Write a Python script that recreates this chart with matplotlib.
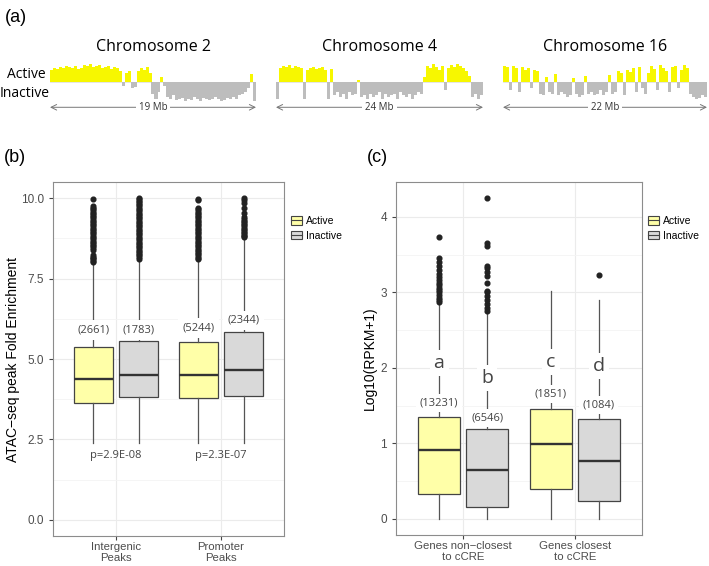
import numpy as np
import matplotlib
matplotlib.use('Agg')
import matplotlib.pyplot as plt
from matplotlib.patches import Patch
from matplotlib.lines import Line2D

# panel (a): binned signal along each chromosome, >0 active, <0 inactive
chr_names = ['Chromosome 2', 'Chromosome 4', 'Chromosome 16']
chr_sizes = [19, 24, 22]
chr2_signal = [0.7, 0.8, 0.75, 0.85, 0.8, 0.9, 0.85, 0.8, 0.9, 0.75, 0.8, 0.95,
               0.9, 1.0, 0.85, 0.9, 0.95, 0.8, 0.85, 0.9, 0.75, 0.85, 0.8, 0.6,
               -0.2, 0.5, 0.6, -0.3, -0.25, 0.6, 0.8, 0.7, 0.85, 0.5,
               -0.6, -0.9, -0.5, 0.3, -0.2,
               -0.8, -0.9, -0.7, -0.95, -0.9, -0.85, -1.0, -0.9, -0.95, -0.8, -0.9, -1.0,
               -0.85, -0.9, -0.95, -0.9, -0.8, -0.9, -1.0, -0.95, -0.85, -0.9, -0.8, -0.9,
               -0.7, -0.6, -0.5, -0.3, 0.45, -1.0]
chr4_signal = [-0.9, 0.8, 0.9, 0.85, 0.95, 0.8, 0.9, 0.85, 0.8, -0.9,
               0.7, 0.8, 0.85, 0.75, 0.8, 0.85, 0.7, -0.9, 0.75,
               -0.7, -0.5, -0.8, -0.6, -0.9, -0.5, -0.7, -0.6, 0.15, -0.8, -0.7, -0.9,
               -0.6, -0.8, -0.7, -0.5, -0.9, -0.6, -0.8, -0.7, -0.6, -0.9, -0.5, -0.7,
               -0.8, -0.6, -0.9, -0.7, -0.5, -0.6, 0.3,
               0.9, 0.8, 1.0, 0.85, 0.7, 0.9, -0.4, 0.8, 0.95, 0.85, 1.0, 0.9, 0.8, 0.6,
               0.35, -0.8, -0.6, -0.9, -0.7]
chr16_signal = [0.9, 0.85, -0.4, 0.9, 0.8, -0.5, 0.85, 0.7, 0.8, -0.3, 0.7, 0.6,
                -0.6, -0.7, 0.3, -0.5, -0.6, 0.45, -0.7, -0.5, -0.6, -0.8, -0.7, 0.25,
                -0.6, -0.8, -0.7, 0.35, -0.6, -0.5, -0.7, -0.6, -0.4, -0.7, -0.5, 0.4,
                -0.6, -0.5, 0.6, 0.5, -0.7, 0.7, 0.55, 0.8, -0.5, 0.85, -0.3, -0.6,
                0.5, 0.9, 0.75, -0.4, 0.95, 0.8, 0.6, -0.5, 0.85, 0.9, -0.3, 0.7,
                0.95, 0.8, -0.6, -0.8, -0.9, -0.85, -0.7, -0.8]
chr_signals = [chr2_signal, chr4_signal, chr16_signal]

# panel (b): ATAC-seq peak fold enrichment
peak_groups = ['Intergenic\nPeaks', 'Promoter\nPeaks']
peak_q1 = [[3.62, 3.82], [3.78, 3.85]]
peak_med = [[4.37, 4.50], [4.50, 4.66]]
peak_q3 = [[5.38, 5.55], [5.52, 5.83]]
peak_lo = [[2.38, 2.38], [2.38, 2.38]]
peak_hi = [[8.0, 8.1], [8.08, 8.75]]
peak_out = [[[8.02, 8.06, 8.1, 8.14, 8.18, 8.22, 8.4, 8.45, 8.5, 8.55, 8.6, 8.65, 8.7,
              8.75, 8.8, 8.85, 8.9, 8.95, 9.0, 9.05, 9.1, 9.15, 9.2, 9.25, 9.3, 9.35,
              9.4, 9.45, 9.5, 9.55, 9.6, 9.65, 9.7, 9.75, 9.97],
             [8.12, 8.17, 8.22, 8.27, 8.32, 8.37, 8.42, 8.47, 8.52, 8.57, 8.62, 8.67,
              8.72, 8.77, 8.82, 8.87, 8.92, 8.97, 9.02, 9.07, 9.12, 9.17, 9.22, 9.27,
              9.32, 9.37, 9.42, 9.47, 9.52, 9.57, 9.62, 9.67, 9.72, 9.77, 9.82, 9.87,
              9.92, 9.97, 10.0]],
            [[8.1, 8.15, 8.2, 8.25, 8.3, 8.35, 8.4, 8.45, 8.5, 8.55, 8.6, 8.65, 8.7,
              8.75, 8.8, 8.85, 8.9, 8.95, 9.0, 9.05, 9.1, 9.15, 9.2, 9.25, 9.3, 9.35,
              9.4, 9.45, 9.5, 9.55, 9.6, 9.65, 9.7, 9.93, 9.98],
             [8.78, 8.82, 8.86, 8.9, 8.95, 9.0, 9.05, 9.1, 9.15, 9.2, 9.25, 9.3, 9.35,
              9.4, 9.55, 9.7, 9.85, 9.95, 10.0]]]
peak_counts = [['(2661)', '(1783)'], ['(5244)', '(2344)']]
peak_count_y = [[5.9, 5.9], [5.96, 6.2]]
peak_pvals = ['p=2.9E-08', 'p=2.3E-07']

# panel (c): gene expression
gene_groups = ['Genes non\u2212closest\nto cCRE', 'Genes closest\nto cCRE']
gene_q1 = [[0.334, 0.158], [0.396, 0.233]]
gene_med = [[0.915, 0.643], [0.99, 0.77]]
gene_q3 = [[1.348, 1.19], [1.454, 1.32]]
gene_lo = [[0.0, 0.0], [0.0, 0.0]]
gene_hi = [[2.85, 2.73], [3.02, 2.9]]
gene_out = [[[2.87, 2.9, 2.93, 2.96, 3.0, 3.03, 3.06, 3.1, 3.13, 3.16, 3.2, 3.25, 3.3,
              3.35, 3.4, 3.45, 3.74],
             [2.76, 2.8, 2.85, 2.9, 2.95, 3.0, 3.02, 3.12, 3.22, 3.27, 3.32, 3.35, 3.62,
              3.66, 4.25]],
            [[], [3.23]]]
gene_counts = [['(13231)', '(6546)'], ['(1851)', '(1084)']]
gene_count_y = [[1.54, 1.34], [1.65, 1.51]]
gene_letters = [['a', 'b'], ['c', 'd']]
gene_letter_y = [[2.07, 1.87], [2.08, 2.03]]

states = ['Active', 'Inactive']
box_colors = ['#ffffa8', '#d9d9d9']
track_colors = ['#f7f700', '#bdbdbd']

W, H = 709, 566
fig = plt.figure(figsize=(W / 100, H / 100), dpi=100)
sans = 'Liberation Sans'
calib = 'Open Sans'


def fr(x0, y0, x1, y1):
    return [x0 / W, 1 - y1 / H, (x1 - x0) / W, (y1 - y0) / H]


# ---- panel (a)
fig.text(5 / W, 1 - 17 / H, '(a)', fontsize=13, family=sans, va='center')
fig.text(26 / W, 1 - 74 / H, 'Active', fontsize=10, family=calib, ha='center', va='center')
fig.text(25 / W, 1 - 93 / H, 'Inactive', fontsize=10, family=calib, ha='center', va='center')
track_px = [(50, 256), (276, 483), (503, 707)]
for name, size, sig, (x0, x1) in zip(chr_names, chr_sizes, chr_signals, track_px):
    ax = fig.add_axes(fr(x0, 64, x1, 101))
    sig = np.array(sig)
    n = len(sig)
    bw = size / n
    pos = (np.arange(n) + 0.5) * bw
    cols = [track_colors[0] if v > 0 else track_colors[1] for v in sig]
    ax.bar(pos, sig, width=bw * 1.02, color=cols, linewidth=0)
    ax.axhline(0, color='#e0e0e0', lw=0.6, zorder=0)
    ax.set_xlim(0, size)
    ax.set_ylim(-1, 1)
    ax.axis('off')
    ax.text(0.5, 1.46, name, transform=ax.transAxes, ha='center', va='center',
            fontsize=11.5, family=calib)
    ax.annotate('', xy=(0, -0.17), xytext=(1, -0.17), xycoords='axes fraction',
                arrowprops=dict(arrowstyle='<->', color='#777777', lw=0.7,
                                shrinkA=0, shrinkB=0))
    ax.text(0.5, -0.17, '%d Mb' % size, transform=ax.transAxes, ha='center', va='center',
            fontsize=7, family=calib, color='#333333',
            bbox=dict(fc='white', ec='none', pad=2))


def style_axes(ax):
    for s in ax.spines.values():
        s.set_color('#8c8c8c')
        s.set_linewidth(0.8)
    ax.grid(True, which='major', color='#ebebeb', lw=0.8)
    ax.grid(True, which='minor', axis='y', color='#f4f4f4', lw=0.6)
    ax.set_axisbelow(True)
    ax.tick_params(axis='both', which='major', length=3, color='#444444',
                   labelcolor='#4d4d4d', labelsize=8.5)
    ax.tick_params(axis='x', which='major', pad=1.5, labelsize=8.2)
    ax.tick_params(axis='both', which='minor', length=0)
    for lab in ax.get_xticklabels() + ax.get_yticklabels():
        lab.set_family(sans)


def draw_boxes(ax, q1, med, q3, lo, hi, out):
    for g in range(2):
        for s in range(2):
            st = dict(med=med[g][s], q1=q1[g][s], q3=q3[g][s], whislo=lo[g][s],
                      whishi=hi[g][s], fliers=out[g][s])
            ax.bxp([st], positions=[g + 1 + (s - 0.5) * 0.43], widths=0.375,
                   patch_artist=True, showcaps=False, manage_ticks=False,
                   boxprops=dict(facecolor=box_colors[s], edgecolor='#444444', lw=0.9),
                   medianprops=dict(color='#333333', lw=1.7),
                   whiskerprops=dict(color='#555555', lw=0.9),
                   flierprops=dict(marker='o', mfc='#222222', mec='#222222', ms=3.4))


def add_legend(x, y):
    handles = [(Patch(facecolor=c, edgecolor='#444444', lw=0.8),
                Line2D([], [], color='#444444', lw=0.8)) for c in box_colors]
    fig.legend(handles, states, loc='upper left', bbox_to_anchor=(x / W, 1 - y / H),
               frameon=False, handlelength=1.1, handleheight=0.9,
               handletextpad=0.3, labelspacing=0.45, borderaxespad=0, borderpad=0,
               prop=dict(family=sans, size=7.5))


# ---- panel (b)
fig.text(4 / W, 1 - 158 / H, '(b)', fontsize=13, family=sans, va='center')
axb = fig.add_axes(fr(53, 182, 284, 536))
draw_boxes(axb, peak_q1, peak_med, peak_q3, peak_lo, peak_hi, peak_out)
for g in range(2):
    for s in range(2):
        axb.text(g + 1 + (s - 0.5) * 0.43, peak_count_y[g][s], peak_counts[g][s],
                 ha='center', va='center', fontsize=8, family=calib, color='#444444',
                 zorder=6, bbox=dict(fc='white', ec='none', pad=3))
    axb.text(g + 1, 2.0, peak_pvals[g], ha='center', va='center', fontsize=8,
             family=calib, color='#444444')
axb.set_xlim(0.4, 2.6)
axb.set_ylim(-0.5, 10.5)
axb.set_xticks([1, 2])
axb.set_xticklabels(peak_groups, linespacing=1.12)
axb.set_yticks([0, 2.5, 5, 7.5, 10])
axb.set_yticklabels(['0.0', '2.5', '5.0', '7.5', '10.0'])
axb.set_yticks([1.25, 3.75, 6.25, 8.75], minor=True)
axb.set_ylabel('ATAC\u2212seq peak Fold Enrichment', fontsize=10, family=sans)
axb.yaxis.set_label_coords(-33 / 231, 0.5)
style_axes(axb)
add_legend(291, 216)

# ---- panel (c)
fig.text(367 / W, 1 - 158 / H, '(c)', fontsize=13, family=sans, va='center')
axc = fig.add_axes(fr(396, 182, 642, 535))
draw_boxes(axc, gene_q1, gene_med, gene_q3, gene_lo, gene_hi, gene_out)
for g in range(2):
    for s in range(2):
        xp = g + 1 + (s - 0.5) * 0.43
        axc.text(xp, gene_count_y[g][s], gene_counts[g][s], ha='center', va='center',
                 fontsize=8, family=calib, color='#444444', zorder=6,
                 bbox=dict(fc='white', ec='none', pad=2.5))
        axc.text(xp, gene_letter_y[g][s], gene_letters[g][s], ha='center', va='center',
                 fontsize=14, family=calib, color='#444444', zorder=6,
                 bbox=dict(fc='white', ec='none', pad=3))
axc.set_xlim(0.4, 2.6)
axc.set_ylim(-0.2125, 4.4625)
axc.set_xticks([1, 2])
axc.set_xticklabels(gene_groups, linespacing=1.12)
axc.set_yticks([0, 1, 2, 3, 4])
axc.set_yticks([0.5, 1.5, 2.5, 3.5], minor=True)
axc.set_ylabel('Log10(RPKM+1)', fontsize=10, family=sans)
axc.yaxis.set_label_coords(-19 / 246, 0.5)
style_axes(axc)
add_legend(648, 216)

fig.savefig('out.png', dpi=100)
